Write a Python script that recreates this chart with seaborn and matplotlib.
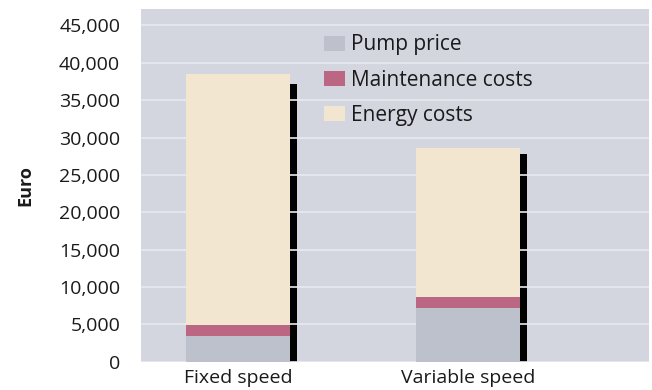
import matplotlib
matplotlib.use("Agg")
import matplotlib.pyplot as plt
import seaborn as sns
import pandas as pd
from matplotlib.patches import Patch
from matplotlib.ticker import FuncFormatter

# Life-cycle cost components per pump control type (Euro)
categories = ["Fixed speed", "Variable speed"]
pump_price = [3400, 7150]
maintenance_costs = [1500, 1500]
energy_costs = [33550, 19900]
shadow_height = [37100, 27750]

series_names = ["Pump price", "Maintenance costs", "Energy costs"]
series_colors = ["#bdc1cc", "#bb6683", "#f3e6d0"]

sns.set_theme(style="white")
plt.rcParams["font.family"] = ["Open Sans", "DejaVu Sans"]

df = pd.DataFrame({
    "category": categories,
    "pump": pump_price,
    "maint": maintenance_costs,
    "energy": energy_costs,
    "shadow": shadow_height,
})
df["level1"] = df["pump"]
df["level2"] = df["pump"] + df["maint"]
df["level3"] = df["level2"] + df["energy"]

fig = plt.figure(figsize=(6.52, 3.9), dpi=100)
ax = fig.add_axes([0.2163, 0.0726, 0.7791, 0.9044])
ax.set_facecolor("#d3d6df")

bar_w = 0.452

# black edge strip on the right side of each column
ax.bar([i + bar_w / 2 for i in range(len(categories))], df["shadow"],
       width=0.03, align="edge", color="black", zorder=0.3, linewidth=0)

# stacked columns: draw cumulative totals from the top layer down
for col, color in zip(["level3", "level2", "level1"], series_colors[::-1]):
    sns.barplot(data=df, x="category", y=col, color=color, width=bar_w,
                saturation=1, ax=ax, zorder=2, linewidth=0)

ax.set_ylim(0, 47200)
ax.set_xlim(-0.422, 1.787)
ax.set_yticks(range(0, 45001, 5000))
ax.yaxis.set_major_formatter(FuncFormatter(lambda v, p: f"{int(v):,}"))
ax.grid(axis="y", color="#e8eaf0", linewidth=1.2, zorder=0.5)
ax.set_axisbelow(True)
for s in ax.spines.values():
    s.set_visible(False)

ax.tick_params(axis="y", length=7, width=1.2, color="#e8eaf0", pad=8,
               labelsize=14, labelcolor="#1a1a1a")
ax.tick_params(axis="x", length=0, pad=5, labelsize=14, labelcolor="#1a1a1a")
ax.set_xlabel("")
ax.set_ylabel("Euro", fontsize=13, fontweight="bold", color="#1a1a1a")
ax.yaxis.set_label_coords(-0.209, 0.5)

handles = [Patch(facecolor=c, edgecolor="none", label=n)
           for n, c in zip(series_names, series_colors)]
leg = ax.legend(handles=handles, loc="upper left", bbox_to_anchor=(0.360, 0.928),
                frameon=False, fontsize=15, handlelength=1.0, handleheight=0.72,
                handletextpad=0.29, labelspacing=0.68, borderaxespad=0, borderpad=0)
for t in leg.get_texts():
    t.set_color("#1a1a1a")

fig.savefig("out.png", dpi=100)
